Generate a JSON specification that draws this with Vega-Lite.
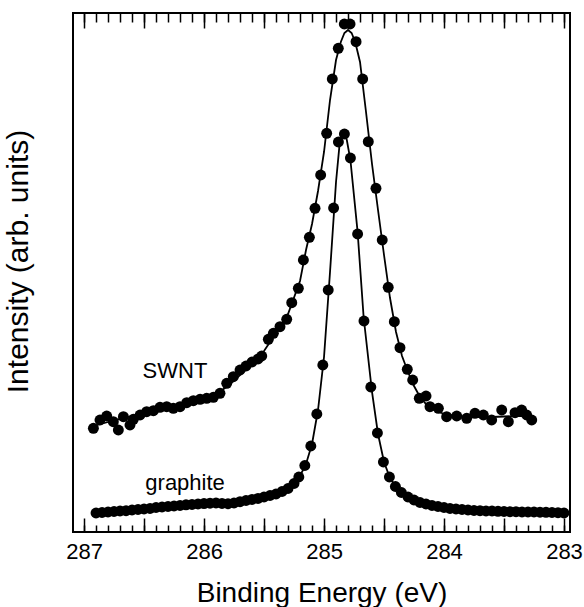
{
  "$schema": "https://vega.github.io/schema/vega-lite/v6.json",
  "width": 497,
  "height": 519,
  "autosize": {"type": "none"},
  "padding": {"left": 73, "top": 13, "right": 14, "bottom": 75},
  "background": "white",
  "config": {
    "font": "Liberation Sans",
    "view": {"stroke": "black", "strokeWidth": 2},
    "axis": {"grid": false, "domain": false, "tickColor": "black", "tickWidth": 1.5, "labelColor": "black", "titleColor": "black", "titleFontWeight": "normal"}
  },
  "datasets": {
    "pts": [
      {"series": "graphite", "E": 286.90, "I": 19},
      {"series": "graphite", "E": 286.85, "I": 19.5},
      {"series": "graphite", "E": 286.80, "I": 20},
      {"series": "graphite", "E": 286.75, "I": 20.5},
      {"series": "graphite", "E": 286.70, "I": 21},
      {"series": "graphite", "E": 286.65, "I": 21.3},
      {"series": "graphite", "E": 286.60, "I": 22},
      {"series": "graphite", "E": 286.55, "I": 22.5},
      {"series": "graphite", "E": 286.50, "I": 23},
      {"series": "graphite", "E": 286.45, "I": 23.5},
      {"series": "graphite", "E": 286.40, "I": 24.5},
      {"series": "graphite", "E": 286.35, "I": 25},
      {"series": "graphite", "E": 286.30, "I": 25.5},
      {"series": "graphite", "E": 286.25, "I": 26},
      {"series": "graphite", "E": 286.20, "I": 26.5},
      {"series": "graphite", "E": 286.15, "I": 27.2},
      {"series": "graphite", "E": 286.10, "I": 27.6},
      {"series": "graphite", "E": 286.05, "I": 28},
      {"series": "graphite", "E": 286.00, "I": 28.4},
      {"series": "graphite", "E": 285.95, "I": 28.8},
      {"series": "graphite", "E": 285.90, "I": 29},
      {"series": "graphite", "E": 285.85, "I": 28.6},
      {"series": "graphite", "E": 285.80, "I": 28.3},
      {"series": "graphite", "E": 285.75, "I": 29},
      {"series": "graphite", "E": 285.70, "I": 30.3},
      {"series": "graphite", "E": 285.65, "I": 31.5},
      {"series": "graphite", "E": 285.60, "I": 32.6},
      {"series": "graphite", "E": 285.55, "I": 33.6},
      {"series": "graphite", "E": 285.50, "I": 35},
      {"series": "graphite", "E": 285.45, "I": 36.5},
      {"series": "graphite", "E": 285.40, "I": 38},
      {"series": "graphite", "E": 285.35, "I": 40.5},
      {"series": "graphite", "E": 285.30, "I": 43.5},
      {"series": "graphite", "E": 285.25, "I": 48.5},
      {"series": "graphite", "E": 285.21, "I": 55},
      {"series": "graphite", "E": 285.16, "I": 66.5},
      {"series": "graphite", "E": 285.11, "I": 86},
      {"series": "graphite", "E": 285.06, "I": 118},
      {"series": "graphite", "E": 285.01, "I": 167},
      {"series": "graphite", "E": 284.965, "I": 242},
      {"series": "graphite", "E": 284.92, "I": 324},
      {"series": "graphite", "E": 284.88, "I": 390},
      {"series": "graphite", "E": 284.83, "I": 398},
      {"series": "graphite", "E": 284.78, "I": 374},
      {"series": "graphite", "E": 284.72, "I": 298},
      {"series": "graphite", "E": 284.667, "I": 211},
      {"series": "graphite", "E": 284.61, "I": 145},
      {"series": "graphite", "E": 284.555, "I": 99},
      {"series": "graphite", "E": 284.505, "I": 70},
      {"series": "graphite", "E": 284.455, "I": 55},
      {"series": "graphite", "E": 284.405, "I": 45.5},
      {"series": "graphite", "E": 284.355, "I": 39.5},
      {"series": "graphite", "E": 284.30, "I": 35},
      {"series": "graphite", "E": 284.25, "I": 32},
      {"series": "graphite", "E": 284.20, "I": 29.5},
      {"series": "graphite", "E": 284.15, "I": 28},
      {"series": "graphite", "E": 284.10, "I": 26.5},
      {"series": "graphite", "E": 284.05, "I": 25.5},
      {"series": "graphite", "E": 284.00, "I": 24.5},
      {"series": "graphite", "E": 283.95, "I": 23.5},
      {"series": "graphite", "E": 283.90, "I": 23},
      {"series": "graphite", "E": 283.85, "I": 22.5},
      {"series": "graphite", "E": 283.80, "I": 22},
      {"series": "graphite", "E": 283.75, "I": 21.5},
      {"series": "graphite", "E": 283.70, "I": 21.3},
      {"series": "graphite", "E": 283.65, "I": 21},
      {"series": "graphite", "E": 283.60, "I": 21},
      {"series": "graphite", "E": 283.55, "I": 20.7},
      {"series": "graphite", "E": 283.50, "I": 20.5},
      {"series": "graphite", "E": 283.45, "I": 20.3},
      {"series": "graphite", "E": 283.40, "I": 20.3},
      {"series": "graphite", "E": 283.35, "I": 20},
      {"series": "graphite", "E": 283.30, "I": 20},
      {"series": "graphite", "E": 283.25, "I": 20},
      {"series": "graphite", "E": 283.20, "I": 19.8},
      {"series": "graphite", "E": 283.15, "I": 19.7},
      {"series": "graphite", "E": 283.10, "I": 19.5},
      {"series": "graphite", "E": 283.05, "I": 19.3},
      {"series": "graphite", "E": 283.00, "I": 19},
      {"series": "SWNT", "E": 286.922, "I": 103.7},
      {"series": "SWNT", "E": 286.867, "I": 112},
      {"series": "SWNT", "E": 286.811, "I": 116},
      {"series": "SWNT", "E": 286.756, "I": 110.3},
      {"series": "SWNT", "E": 286.714, "I": 102},
      {"series": "SWNT", "E": 286.672, "I": 115.3},
      {"series": "SWNT", "E": 286.617, "I": 107},
      {"series": "SWNT", "E": 286.589, "I": 112.7},
      {"series": "SWNT", "E": 286.533, "I": 117},
      {"series": "SWNT", "E": 286.478, "I": 120.3},
      {"series": "SWNT", "E": 286.422, "I": 121.3},
      {"series": "SWNT", "E": 286.367, "I": 124.7},
      {"series": "SWNT", "E": 286.311, "I": 125.3},
      {"series": "SWNT", "E": 286.256, "I": 123.7},
      {"series": "SWNT", "E": 286.2, "I": 125.3},
      {"series": "SWNT", "E": 286.144, "I": 129.3},
      {"series": "SWNT", "E": 286.089, "I": 131.3},
      {"series": "SWNT", "E": 286.033, "I": 132.7},
      {"series": "SWNT", "E": 285.978, "I": 133.7},
      {"series": "SWNT", "E": 285.922, "I": 134.7},
      {"series": "SWNT", "E": 285.867, "I": 138.7},
      {"series": "SWNT", "E": 285.811, "I": 148.7},
      {"series": "SWNT", "E": 285.756, "I": 155.3},
      {"series": "SWNT", "E": 285.7, "I": 162},
      {"series": "SWNT", "E": 285.65, "I": 166},
      {"series": "SWNT", "E": 285.6, "I": 170},
      {"series": "SWNT", "E": 285.55, "I": 173},
      {"series": "SWNT", "E": 285.519, "I": 176},
      {"series": "SWNT", "E": 285.464, "I": 192.7},
      {"series": "SWNT", "E": 285.422, "I": 198.7},
      {"series": "SWNT", "E": 285.367, "I": 205.3},
      {"series": "SWNT", "E": 285.311, "I": 212.7},
      {"series": "SWNT", "E": 285.269, "I": 229.3},
      {"series": "SWNT", "E": 285.214, "I": 243.7},
      {"series": "SWNT", "E": 285.172, "I": 272},
      {"series": "SWNT", "E": 285.122, "I": 294.7},
      {"series": "SWNT", "E": 285.075, "I": 323.7},
      {"series": "SWNT", "E": 285.028, "I": 357},
      {"series": "SWNT", "E": 284.978, "I": 398.7},
      {"series": "SWNT", "E": 284.931, "I": 453},
      {"series": "SWNT", "E": 284.881, "I": 483.7},
      {"series": "SWNT", "E": 284.831, "I": 508},
      {"series": "SWNT", "E": 284.783, "I": 508},
      {"series": "SWNT", "E": 284.733, "I": 490.3},
      {"series": "SWNT", "E": 284.678, "I": 453},
      {"series": "SWNT", "E": 284.631, "I": 390.3},
      {"series": "SWNT", "E": 284.567, "I": 343.7},
      {"series": "SWNT", "E": 284.515, "I": 292},
      {"series": "SWNT", "E": 284.465, "I": 244.7},
      {"series": "SWNT", "E": 284.414, "I": 210.3},
      {"series": "SWNT", "E": 284.367, "I": 184.3},
      {"series": "SWNT", "E": 284.306, "I": 162.7},
      {"series": "SWNT", "E": 284.261, "I": 152},
      {"series": "SWNT", "E": 284.206, "I": 133.7},
      {"series": "SWNT", "E": 284.15, "I": 136},
      {"series": "SWNT", "E": 284.117, "I": 125.3},
      {"series": "SWNT", "E": 284.047, "I": 123.7},
      {"series": "SWNT", "E": 283.978, "I": 115.3},
      {"series": "SWNT", "E": 283.894, "I": 116},
      {"series": "SWNT", "E": 283.811, "I": 113.7},
      {"series": "SWNT", "E": 283.742, "I": 118.7},
      {"series": "SWNT", "E": 283.672, "I": 117},
      {"series": "SWNT", "E": 283.603, "I": 112},
      {"series": "SWNT", "E": 283.519, "I": 122},
      {"series": "SWNT", "E": 283.464, "I": 110.3},
      {"series": "SWNT", "E": 283.408, "I": 119.3},
      {"series": "SWNT", "E": 283.353, "I": 122},
      {"series": "SWNT", "E": 283.311, "I": 117},
      {"series": "SWNT", "E": 283.269, "I": 112}
    ],
    "fit": [
      {"series": "graphite", "E": 286.92, "I": 19},
      {"series": "graphite", "E": 286.5, "I": 23},
      {"series": "graphite", "E": 286.0, "I": 28.5},
      {"series": "graphite", "E": 285.7, "I": 31},
      {"series": "graphite", "E": 285.5, "I": 34.5},
      {"series": "graphite", "E": 285.4, "I": 37.5},
      {"series": "graphite", "E": 285.3, "I": 43},
      {"series": "graphite", "E": 285.25, "I": 48},
      {"series": "graphite", "E": 285.2, "I": 56},
      {"series": "graphite", "E": 285.15, "I": 68},
      {"series": "graphite", "E": 285.1, "I": 88},
      {"series": "graphite", "E": 285.05, "I": 122},
      {"series": "graphite", "E": 285.0, "I": 175},
      {"series": "graphite", "E": 284.95, "I": 260},
      {"series": "graphite", "E": 284.9, "I": 350},
      {"series": "graphite", "E": 284.87, "I": 388},
      {"series": "graphite", "E": 284.85, "I": 398},
      {"series": "graphite", "E": 284.83, "I": 400},
      {"series": "graphite", "E": 284.81, "I": 392},
      {"series": "graphite", "E": 284.78, "I": 372},
      {"series": "graphite", "E": 284.72, "I": 300},
      {"series": "graphite", "E": 284.67, "I": 215},
      {"series": "graphite", "E": 284.6, "I": 140},
      {"series": "graphite", "E": 284.55, "I": 98},
      {"series": "graphite", "E": 284.5, "I": 70},
      {"series": "graphite", "E": 284.45, "I": 54},
      {"series": "graphite", "E": 284.4, "I": 45},
      {"series": "graphite", "E": 284.35, "I": 39},
      {"series": "graphite", "E": 284.3, "I": 35},
      {"series": "graphite", "E": 284.2, "I": 29.5},
      {"series": "graphite", "E": 284.1, "I": 26.5},
      {"series": "graphite", "E": 284.0, "I": 24.5},
      {"series": "graphite", "E": 283.8, "I": 22},
      {"series": "graphite", "E": 283.5, "I": 20.5},
      {"series": "graphite", "E": 283.0, "I": 19},
      {"series": "SWNT", "E": 286.92, "I": 106},
      {"series": "SWNT", "E": 286.8, "I": 110},
      {"series": "SWNT", "E": 286.7, "I": 113},
      {"series": "SWNT", "E": 286.6, "I": 116},
      {"series": "SWNT", "E": 286.5, "I": 119},
      {"series": "SWNT", "E": 286.4, "I": 122},
      {"series": "SWNT", "E": 286.3, "I": 125},
      {"series": "SWNT", "E": 286.2, "I": 128},
      {"series": "SWNT", "E": 286.1, "I": 131},
      {"series": "SWNT", "E": 286.0, "I": 134},
      {"series": "SWNT", "E": 285.9, "I": 138},
      {"series": "SWNT", "E": 285.8, "I": 146},
      {"series": "SWNT", "E": 285.7, "I": 157},
      {"series": "SWNT", "E": 285.6, "I": 168},
      {"series": "SWNT", "E": 285.5, "I": 181},
      {"series": "SWNT", "E": 285.4, "I": 199},
      {"series": "SWNT", "E": 285.3, "I": 218},
      {"series": "SWNT", "E": 285.2, "I": 251},
      {"series": "SWNT", "E": 285.15, "I": 282},
      {"series": "SWNT", "E": 285.1, "I": 308},
      {"series": "SWNT", "E": 285.05, "I": 341},
      {"series": "SWNT", "E": 285.0, "I": 380},
      {"series": "SWNT", "E": 284.95, "I": 432},
      {"series": "SWNT", "E": 284.9, "I": 472},
      {"series": "SWNT", "E": 284.86, "I": 490},
      {"series": "SWNT", "E": 284.83, "I": 499},
      {"series": "SWNT", "E": 284.8, "I": 502},
      {"series": "SWNT", "E": 284.77, "I": 499},
      {"series": "SWNT", "E": 284.74, "I": 490},
      {"series": "SWNT", "E": 284.7, "I": 470},
      {"series": "SWNT", "E": 284.65, "I": 420},
      {"series": "SWNT", "E": 284.6, "I": 368},
      {"series": "SWNT", "E": 284.55, "I": 322},
      {"series": "SWNT", "E": 284.5, "I": 277},
      {"series": "SWNT", "E": 284.45, "I": 234},
      {"series": "SWNT", "E": 284.4, "I": 200},
      {"series": "SWNT", "E": 284.35, "I": 176},
      {"series": "SWNT", "E": 284.3, "I": 160},
      {"series": "SWNT", "E": 284.25, "I": 146},
      {"series": "SWNT", "E": 284.2, "I": 135},
      {"series": "SWNT", "E": 284.15, "I": 128},
      {"series": "SWNT", "E": 284.1, "I": 123},
      {"series": "SWNT", "E": 284.0, "I": 118},
      {"series": "SWNT", "E": 283.9, "I": 116},
      {"series": "SWNT", "E": 283.8, "I": 115},
      {"series": "SWNT", "E": 283.6, "I": 115},
      {"series": "SWNT", "E": 283.4, "I": 116},
      {"series": "SWNT", "E": 283.27, "I": 116}
    ],
    "labels": [
      {"text": "SWNT", "E": 286.242, "I": 154},
      {"text": "graphite", "E": 286.158, "I": 42}
    ]
  },
  "resolve": {"axis": {"x": "independent", "y": "independent"}},
  "layer": [
    {
      "data": {"name": "fit"},
      "transform": [{"filter": "datum.series === 'graphite'"}],
      "mark": {"type": "line", "color": "black", "strokeWidth": 1.8},
      "encoding": {
        "x": {"field": "E", "type": "quantitative", "scale": {"domain": [282.95, 287.092], "reverse": true, "nice": false, "zero": false},
          "axis": {"orient": "bottom", "values": [283, 284, 285, 286, 287], "ticks": false, "labelPadding": 9, "labelFontSize": 22, "format": "d", "title": "Binding Energy (eV)", "titleFontSize": 28, "titlePadding": 17}},
        "y": {"field": "I", "type": "quantitative", "scale": {"domain": [0, 519], "nice": false, "zero": false},
          "axis": {"orient": "left", "ticks": false, "labels": false, "domain": false, "title": "Intensity (arb. units)", "titleFontSize": 30, "titlePadding": 40, "titleY": 248}}
      }
    },
    {
      "data": {"name": "fit"},
      "transform": [{"filter": "datum.series === 'SWNT'"}],
      "mark": {"type": "line", "color": "black", "strokeWidth": 1.8},
      "encoding": {
        "x": {"field": "E", "type": "quantitative", "scale": {"domain": [282.95, 287.092], "reverse": true, "nice": false, "zero": false},
          "axis": {"orient": "top", "values": [283, 283.5, 284, 284.5, 285, 285.5, 286, 286.5, 287], "tickSize": -15, "labels": false, "title": null}},
        "y": {"field": "I", "type": "quantitative", "axis": null}
      }
    },
    {
      "data": {"name": "pts"},
      "transform": [{"filter": "datum.series === 'graphite'"}],
      "mark": {"type": "circle", "color": "black", "opacity": 1, "size": 120},
      "encoding": {
        "x": {"field": "E", "type": "quantitative", "scale": {"domain": [282.95, 287.092], "reverse": true, "nice": false, "zero": false},
          "axis": {"orient": "bottom", "values": [283, 283.5, 284, 284.5, 285, 285.5, 286, 286.5, 287], "tickSize": -14, "labels": false, "title": null}},
        "y": {"field": "I", "type": "quantitative", "axis": null}
      }
    },
    {
      "data": {"name": "pts"},
      "transform": [{"filter": "datum.series === 'SWNT'"}],
      "mark": {"type": "circle", "color": "black", "opacity": 1, "size": 120},
      "encoding": {
        "x": {"field": "E", "type": "quantitative", "scale": {"domain": [282.95, 287.092], "reverse": true, "nice": false, "zero": false},
          "axis": {"orient": "bottom", "values": [283, 283.1, 283.2, 283.3, 283.4, 283.5, 283.6, 283.7, 283.8, 283.9, 284, 284.1, 284.2, 284.3, 284.4, 284.5, 284.6, 284.7, 284.8, 284.9, 285, 285.1, 285.2, 285.3, 285.4, 285.5, 285.6, 285.7, 285.8, 285.9, 286, 286.1, 286.2, 286.3, 286.4, 286.5, 286.6, 286.7, 286.8, 286.9, 287], "tickSize": -7, "labels": false, "title": null}},
        "y": {"field": "I", "type": "quantitative", "axis": null}
      }
    },
    {
      "data": {"name": "labels"},
      "mark": {"type": "text", "color": "black", "fontSize": 22, "align": "center", "baseline": "alphabetic"},
      "encoding": {
        "x": {"field": "E", "type": "quantitative", "scale": {"domain": [282.95, 287.092], "reverse": true, "nice": false, "zero": false},
          "axis": {"orient": "top", "values": [283, 283.1, 283.2, 283.3, 283.4, 283.5, 283.6, 283.7, 283.8, 283.9, 284, 284.1, 284.2, 284.3, 284.4, 284.5, 284.6, 284.7, 284.8, 284.9, 285, 285.1, 285.2, 285.3, 285.4, 285.5, 285.6, 285.7, 285.8, 285.9, 286, 286.1, 286.2, 286.3, 286.4, 286.5, 286.6, 286.7, 286.8, 286.9, 287], "tickSize": -9, "labels": false, "title": null}},
        "y": {"field": "I", "type": "quantitative", "axis": null},
        "text": {"field": "text", "type": "nominal"}
      }
    }
  ]
}
